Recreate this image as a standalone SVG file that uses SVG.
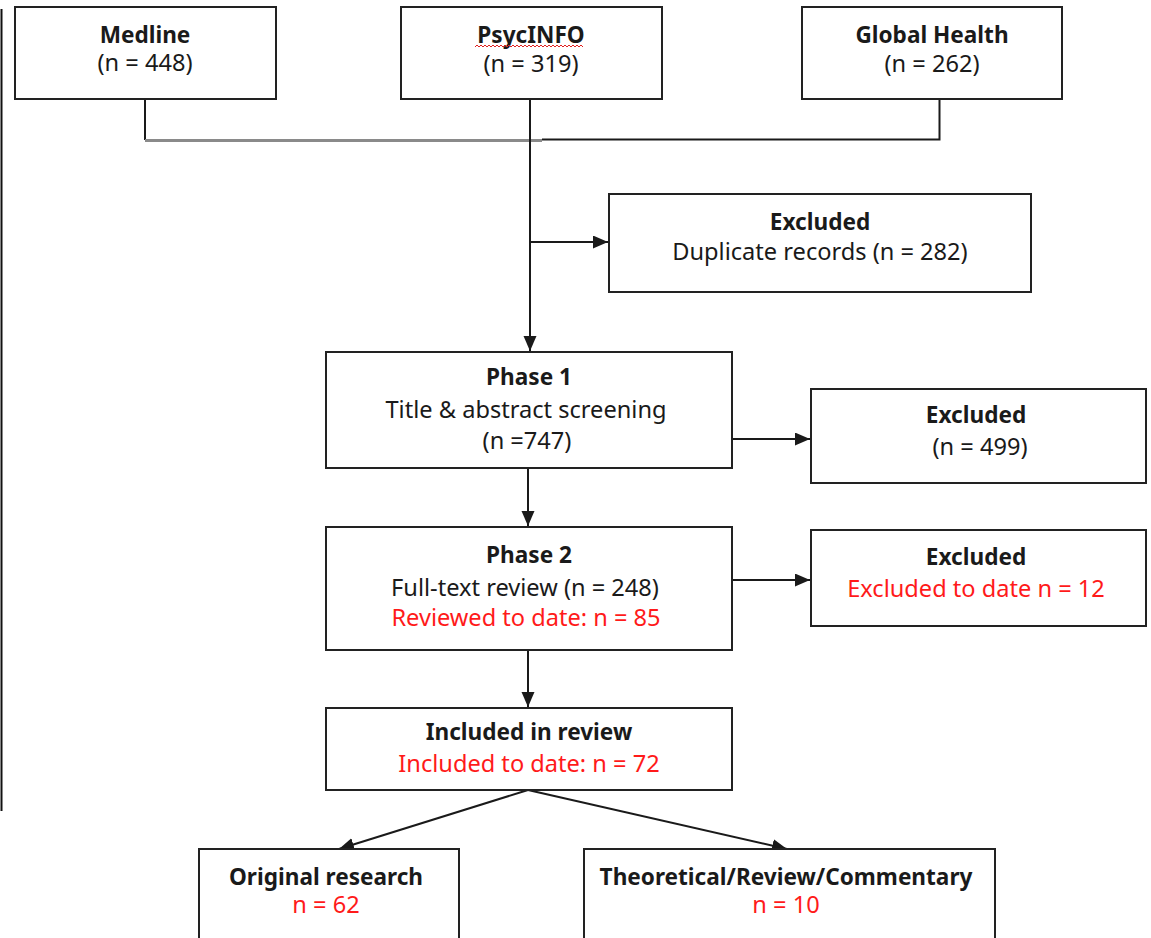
<svg xmlns="http://www.w3.org/2000/svg" width="1151" height="938" viewBox="0 0 1151 938">
<defs>
<style>
.box{fill:#fff;stroke:#222;stroke-width:2}
.t{font-family:"Noto Sans","Open Sans",sans-serif;font-size:23.6px;fill:#1a1a1a;text-anchor:middle}
.b{font-weight:bold;font-size:22.6px}
.r{fill:#ff1a1a}
.c{fill:none;stroke:#1a1a1a;stroke-width:2}
</style>
<marker id="ah" markerUnits="userSpaceOnUse" markerWidth="16" markerHeight="14" refX="15" refY="6.5" orient="auto">
<path d="M0,0 L15,6.5 L0,13 z" fill="#1a1a1a"/>
</marker>
</defs>
<rect width="1151" height="938" fill="#fff"/>
<line x1="1.5" y1="9" x2="1.5" y2="811" stroke="#111" stroke-width="2"/>

<g id="connectors">
<polyline class="c" points="145,99 145,140"/>
<line x1="145" y1="140.5" x2="542" y2="140.5" stroke="#8a8a8a" stroke-width="3"/>
<polyline class="c" points="542,139.5 939.5,139.5 939.5,99"/>
<line class="c" x1="530" y1="99" x2="530" y2="351" marker-end="url(#ah)"/>
<line class="c" x1="530" y1="242" x2="608" y2="242" marker-end="url(#ah)"/>
<line class="c" x1="732" y1="439" x2="810" y2="439" marker-end="url(#ah)"/>
<line class="c" x1="528" y1="468" x2="528" y2="526" marker-end="url(#ah)"/>
<line class="c" x1="732" y1="580" x2="810" y2="580" marker-end="url(#ah)"/>
<line class="c" x1="528" y1="650" x2="528" y2="707" marker-end="url(#ah)"/>
<line class="c" x1="528" y1="790" x2="339" y2="849" marker-end="url(#ah)"/>
<line class="c" x1="528" y1="790" x2="787" y2="849" marker-end="url(#ah)"/>
</g>

<g id="medline">
<rect class="box" x="15" y="7" width="261" height="92"/>
<text class="t b" x="145" y="43">Medline</text>
<text class="t" x="145" y="71">(n = 448)</text>
</g>
<g id="psycinfo">
<rect class="box" x="401" y="7" width="261" height="92"/>
<text class="t b" x="531" y="43">PsycINFO</text>
<polyline points="475,47 477,45 479,47 481,45 483,47 485,45 487,47 489,45 491,47 493,45 495,47 497,45 499,47 501,45 503,47 505,45 507,47 509,45 511,47 513,45 515,47 517,45 519,47 521,45 523,47 525,45 527,47 529,45 531,47 533,45 535,47 537,45 539,47 541,45 543,47 545,45 547,47 549,45 551,47 553,45 555,47 557,45 559,47 561,45 563,47 565,45 567,47 569,45 571,47 573,45 575,47 577,45 579,47 581,45 583,47" fill="none" stroke="#e02020" stroke-width="1"/>
<text class="t" x="531" y="72">(n = 319)</text>
</g>
<g id="globalhealth">
<rect class="box" x="802" y="7" width="260" height="92"/>
<text class="t b" x="932" y="43">Global Health</text>
<text class="t" x="932" y="72">(n = 262)</text>
</g>
<g id="excluded-duplicates">
<rect class="box" x="609" y="194" width="422" height="98"/>
<text class="t b" x="820" y="230">Excluded</text>
<text class="t" x="820" y="260">Duplicate records (n = 282)</text>
</g>
<g id="phase1">
<rect class="box" x="326" y="352" width="406" height="116"/>
<text class="t b" x="529" y="385">Phase 1</text>
<text class="t" x="526" y="418">Title &amp; abstract screening</text>
<text class="t" x="527" y="449">(n =747)</text>
</g>
<g id="excluded-499">
<rect class="box" x="811" y="389" width="335" height="94"/>
<text class="t b" x="976" y="423">Excluded</text>
<text class="t" x="980" y="455">(n = 499)</text>
</g>
<g id="phase2">
<rect class="box" x="326" y="527" width="406" height="123"/>
<text class="t b" x="529" y="563">Phase 2</text>
<text class="t" x="525" y="596">Full-text review (n = 248)</text>
<text class="t r" x="526" y="626">Reviewed to date: n = 85</text>
</g>
<g id="excluded-12">
<rect class="box" x="811" y="530" width="335" height="96"/>
<text class="t b" x="976" y="565">Excluded</text>
<text class="t r" x="976" y="597">Excluded to date n = 12</text>
</g>
<g id="included">
<rect class="box" x="326" y="708" width="406" height="82"/>
<text class="t b" x="529" y="740">Included in review</text>
<text class="t r" x="529" y="772">Included to date: n = 72</text>
</g>
<g id="original">
<rect class="box" x="199" y="849" width="260" height="100"/>
<text class="t b" x="326" y="885">Original research</text>
<text class="t r" x="326" y="913">n = 62</text>
</g>
<g id="theoretical">
<rect class="box" x="584" y="849" width="411" height="100"/>
<text class="t b" x="786" y="885">Theoretical/Review/Commentary</text>
<text class="t r" x="786" y="913">n = 10</text>
</g>
</svg>
